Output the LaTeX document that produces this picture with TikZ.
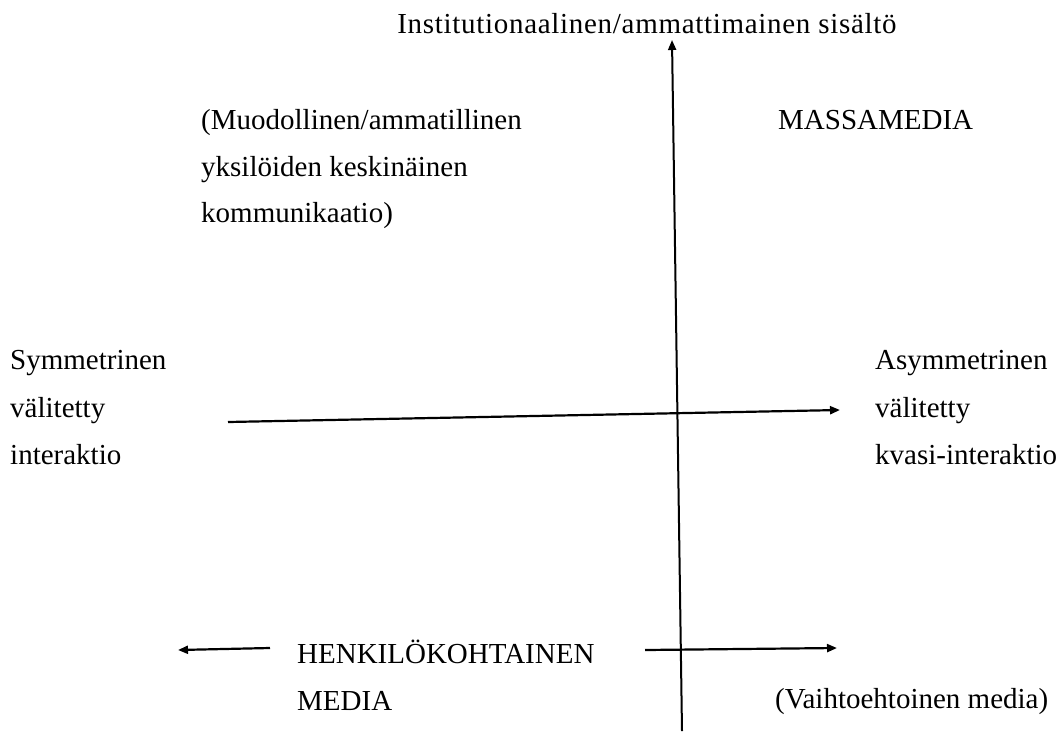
\documentclass[tikz,border=0pt]{standalone}
\usepackage{fontspec}
\setmainfont{Liberation Serif}
\usetikzlibrary{arrows.meta}
\begin{document}
\begin{tikzpicture}[x=1pt,y=-1pt,
  lbl/.style={anchor=base west,inner sep=0pt,font=\fontsize{29}{35}\selectfont},
  axis/.style={line width=2pt,-{Triangle[length=10pt,width=8pt]}},
  arr/.style={line width=2.2pt,-{Triangle[length=10pt,width=8pt]}}]
\useasboundingbox (0,0) rectangle (1062,734);
% texts
\node[lbl,anchor=base] (title) at (647,33) {\addfontfeature{LetterSpace=2.4}Institutionaalinen/ammattimainen sisältö};
\node[lbl] (m1) at (201,129) {(Muodollinen/ammatillinen};
\node[lbl] (m2) at (201,176) {yksilöiden keskinäinen};
\node[lbl] (m3) at (201,222) {kommunikaatio)};
\node[lbl] (mass) at (778,129) {MASSAMEDIA};
\node[lbl] (s1) at (10,369) {Symmetrinen};
\node[lbl] (s2) at (10,417) {välitetty};
\node[lbl] (s3) at (10,464) {interaktio};
\node[lbl] (a1) at (875,369) {Asymmetrinen};
\node[lbl] (a2) at (875,417) {välitetty};
\node[lbl] (a3) at (875,464) {kvasi-interaktio};
\node[lbl] (h1) at (297,663) {HENKILÖKOHTAINEN};
\node[lbl] (h2) at (297,710) {MEDIA};
\node[lbl] (vm) at (775,708) {(Vaihtoehtoinen media)};
% connector end points
\coordinate (vb) at (682,731);
\coordinate (vt) at (672,40);
\coordinate (hl) at (228,422);
\coordinate (hr) at (840,410);
\coordinate (bl1) at (270,648);
\coordinate (bl2) at (178,650);
\coordinate (br1) at (645,650);
\coordinate (br2) at (837,648);
% arrows
\draw[axis] (vb) -- (vt);
\draw[arr] (hl) -- (hr);
\draw[arr] (bl1) -- (bl2);
\draw[arr] (br1) -- (br2);
\end{tikzpicture}
\end{document}
